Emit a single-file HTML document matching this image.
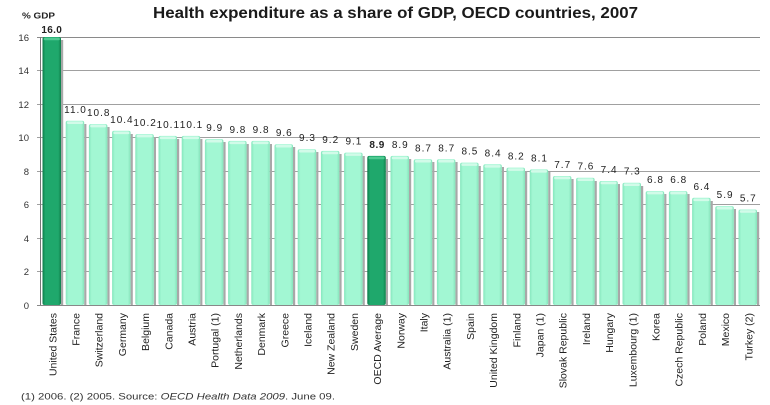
<!DOCTYPE html>
<html><head><meta charset="utf-8"><style>
html,body{margin:0;padding:0;background:#fff;}
svg{display:block;}
text{font-family:"Liberation Sans",sans-serif;}
</style></head><body>
<svg width="770" height="405" viewBox="0 0 770 405" xmlns="http://www.w3.org/2000/svg">
<defs>
<linearGradient id="lg" x1="0" x2="1" y1="0" y2="0">
<stop offset="0" stop-color="#86e6bd"/><stop offset="0.15" stop-color="#a2f7d3"/><stop offset="0.85" stop-color="#a2f7d3"/><stop offset="1" stop-color="#86e3bb"/>
</linearGradient>
<linearGradient id="dg" x1="0" x2="1" y1="0" y2="0">
<stop offset="0" stop-color="#0c7a48"/><stop offset="0.15" stop-color="#1fa86c"/><stop offset="0.85" stop-color="#1fa86c"/><stop offset="1" stop-color="#0f804c"/>
</linearGradient>
</defs>
<text x="153" y="18" font-size="16" font-weight="bold" fill="#1a1a1a" textLength="485" lengthAdjust="spacingAndGlyphs">Health expenditure as a share of GDP, OECD countries, 2007</text>
<text x="22" y="18.3" font-size="8.5" font-weight="bold" fill="#222" textLength="33" lengthAdjust="spacingAndGlyphs">% GDP</text>
<g stroke="#a0a0a0" stroke-width="1">
<line x1="37" x2="760" y1="37.5" y2="37.5" stroke="#8a8a8a"/>
<line x1="37" x2="760" y1="70.5" y2="70.5"/>
<line x1="37" x2="760" y1="104.5" y2="104.5"/>
<line x1="37" x2="760" y1="137.5" y2="137.5"/>
<line x1="37" x2="760" y1="171.5" y2="171.5"/>
<line x1="37" x2="760" y1="204.5" y2="204.5"/>
<line x1="37" x2="760" y1="238.5" y2="238.5"/>
<line x1="37" x2="760" y1="271.5" y2="271.5"/>
</g>
<g font-size="9.5" fill="#333" text-anchor="end">
<text x="29" y="41">16</text><text x="29" y="74">14</text><text x="29" y="108">12</text><text x="29" y="141">10</text>
<text x="29" y="175">8</text><text x="29" y="208">6</text><text x="29" y="242">4</text><text x="29" y="275">2</text><text x="29" y="309">0</text>
</g>
<g fill="#a8a8a8">
<rect x="61" y="40" width="2.2" height="265"/>
<rect x="84.2" y="124" width="2.2" height="181"/>
<rect x="107.4" y="127" width="2.2" height="178"/>
<rect x="130.6" y="134" width="2.2" height="171"/>
<rect x="153.8" y="137" width="2.2" height="168"/>
<rect x="177" y="139" width="2.2" height="166"/>
<rect x="200.2" y="139" width="2.2" height="166"/>
<rect x="223.4" y="142" width="2.2" height="163"/>
<rect x="246.6" y="144" width="2.2" height="161"/>
<rect x="269.8" y="144" width="2.2" height="161"/>
<rect x="293" y="147" width="2.2" height="158"/>
<rect x="316.2" y="152" width="2.2" height="153"/>
<rect x="339.4" y="154" width="2.2" height="151"/>
<rect x="362.6" y="156" width="2.2" height="149"/>
<rect x="385.8" y="159" width="2.2" height="146"/>
<rect x="409" y="159" width="2.2" height="146"/>
<rect x="432.2" y="162" width="2.2" height="143"/>
<rect x="455.4" y="162" width="2.2" height="143"/>
<rect x="478.6" y="166" width="2.2" height="139"/>
<rect x="501.8" y="167" width="2.2" height="138"/>
<rect x="525" y="171" width="2.2" height="134"/>
<rect x="548.2" y="172" width="2.2" height="133"/>
<rect x="571.4" y="179" width="2.2" height="126"/>
<rect x="594.6" y="181" width="2.2" height="124"/>
<rect x="617.8" y="184" width="2.2" height="121"/>
<rect x="641" y="186" width="2.2" height="119"/>
<rect x="664.2" y="194" width="2.2" height="111"/>
<rect x="687.4" y="194" width="2.2" height="111"/>
<rect x="710.6" y="201" width="2.2" height="104"/>
<rect x="733.8" y="209" width="2.2" height="96"/>
<rect x="757" y="212" width="2.2" height="93"/>
</g>
<g fill="url(#lg)">
<rect x="65.7" y="120.75" width="18.5" height="184.25" rx="2"/>
<rect x="88.9" y="124.1" width="18.5" height="180.9" rx="2"/>
<rect x="112.1" y="130.8" width="18.5" height="174.2" rx="2"/>
<rect x="135.3" y="134.15" width="18.5" height="170.85" rx="2"/>
<rect x="158.5" y="135.83" width="18.5" height="169.17" rx="2"/>
<rect x="181.7" y="135.83" width="18.5" height="169.17" rx="2"/>
<rect x="204.9" y="139.18" width="18.5" height="165.82" rx="2"/>
<rect x="228.1" y="140.85" width="18.5" height="164.15" rx="2"/>
<rect x="251.3" y="140.85" width="18.5" height="164.15" rx="2"/>
<rect x="274.5" y="144.2" width="18.5" height="160.8" rx="2"/>
<rect x="297.7" y="149.23" width="18.5" height="155.77" rx="2"/>
<rect x="320.9" y="150.9" width="18.5" height="154.1" rx="2"/>
<rect x="344.1" y="152.58" width="18.5" height="152.42" rx="2"/>
<rect x="390.5" y="155.93" width="18.5" height="149.07" rx="2"/>
<rect x="413.7" y="159.28" width="18.5" height="145.72" rx="2"/>
<rect x="436.9" y="159.28" width="18.5" height="145.72" rx="2"/>
<rect x="460.1" y="162.63" width="18.5" height="142.37" rx="2"/>
<rect x="483.3" y="164.3" width="18.5" height="140.7" rx="2"/>
<rect x="506.5" y="167.65" width="18.5" height="137.35" rx="2"/>
<rect x="529.7" y="169.33" width="18.5" height="135.67" rx="2"/>
<rect x="552.9" y="176.03" width="18.5" height="128.97" rx="2"/>
<rect x="576.1" y="177.7" width="18.5" height="127.3" rx="2"/>
<rect x="599.3" y="181.05" width="18.5" height="123.95" rx="2"/>
<rect x="622.5" y="182.73" width="18.5" height="122.27" rx="2"/>
<rect x="645.7" y="191.1" width="18.5" height="113.9" rx="2"/>
<rect x="668.9" y="191.1" width="18.5" height="113.9" rx="2"/>
<rect x="692.1" y="197.8" width="18.5" height="107.2" rx="2"/>
<rect x="715.3" y="206.18" width="18.5" height="98.82" rx="2"/>
<rect x="738.5" y="209.53" width="18.5" height="95.47" rx="2"/>
</g>
<g fill="url(#dg)">
<rect x="42.5" y="37" width="18.5" height="268" rx="2"/>
<rect x="367.3" y="155.93" width="18.5" height="149.07" rx="2"/>
</g>
<g fill="#d2fbe9">
<rect x="67" y="121.5" width="16" height="2.5" rx="1"/><rect x="90.2" y="124.9" width="16" height="2.5" rx="1"/>
<rect x="113.4" y="131.6" width="16" height="2.5" rx="1"/><rect x="136.6" y="134.9" width="16" height="2.5" rx="1"/>
<rect x="159.8" y="136.6" width="16" height="2.5" rx="1"/><rect x="183" y="136.6" width="16" height="2.5" rx="1"/>
<rect x="206.2" y="140" width="16" height="2.5" rx="1"/><rect x="229.4" y="141.6" width="16" height="2.5" rx="1"/>
<rect x="252.6" y="141.6" width="16" height="2.5" rx="1"/><rect x="275.8" y="145" width="16" height="2.5" rx="1"/>
<rect x="299" y="150" width="16" height="2.5" rx="1"/><rect x="322.2" y="151.7" width="16" height="2.5" rx="1"/>
<rect x="345.4" y="153.4" width="16" height="2.5" rx="1"/><rect x="391.8" y="156.7" width="16" height="2.5" rx="1"/>
<rect x="415" y="160" width="16" height="2.5" rx="1"/><rect x="438.2" y="160" width="16" height="2.5" rx="1"/>
<rect x="461.4" y="163.4" width="16" height="2.5" rx="1"/><rect x="484.6" y="165.1" width="16" height="2.5" rx="1"/>
<rect x="507.8" y="168.4" width="16" height="2.5" rx="1"/><rect x="531" y="170.1" width="16" height="2.5" rx="1"/>
<rect x="554.2" y="176.8" width="16" height="2.5" rx="1"/><rect x="577.4" y="178.5" width="16" height="2.5" rx="1"/>
<rect x="600.6" y="181.8" width="16" height="2.5" rx="1"/><rect x="623.8" y="183.5" width="16" height="2.5" rx="1"/>
<rect x="647" y="191.9" width="16" height="2.5" rx="1"/><rect x="670.2" y="191.9" width="16" height="2.5" rx="1"/>
<rect x="693.4" y="198.6" width="16" height="2.5" rx="1"/><rect x="716.6" y="207" width="16" height="2.5" rx="1"/>
<rect x="739.8" y="210.3" width="16" height="2.5" rx="1"/>
</g>
<g fill="#4fc991">
<rect x="43.8" y="37.8" width="16" height="2.5" rx="1"/><rect x="368.6" y="156.7" width="16" height="2.5" rx="1"/>
</g>
<line x1="40.5" x2="40.5" y1="37" y2="305.5" stroke="#777" stroke-width="1"/>
<line x1="37" x2="760" y1="305.5" y2="305.5" stroke="#888" stroke-width="1"/>
<g font-size="10" fill="#222" text-anchor="middle" letter-spacing="1">
<text x="51.75" y="33" font-weight="bold" letter-spacing="0.3">16.0</text>
<text x="75.5" y="112.75">11.0</text>
<text x="98.7" y="116.1">10.8</text>
<text x="121.9" y="122.8">10.4</text>
<text x="145.1" y="126.15">10.2</text>
<text x="168.3" y="127.83">10.1</text>
<text x="191.5" y="127.83">10.1</text>
<text x="214.7" y="131.18">9.9</text>
<text x="237.9" y="132.85">9.8</text>
<text x="261.1" y="132.85">9.8</text>
<text x="284.3" y="136.2">9.6</text>
<text x="307.5" y="141.23">9.3</text>
<text x="330.7" y="142.9">9.2</text>
<text x="353.9" y="144.58">9.1</text>
<text x="377.1" y="147.93" font-weight="bold" letter-spacing="0.5">8.9</text>
<text x="400.3" y="147.93">8.9</text>
<text x="423.5" y="151.28">8.7</text>
<text x="446.7" y="151.28">8.7</text>
<text x="469.9" y="154.63">8.5</text>
<text x="493.1" y="156.3">8.4</text>
<text x="516.3" y="159.65">8.2</text>
<text x="539.5" y="161.33">8.1</text>
<text x="562.7" y="168.03">7.7</text>
<text x="585.9" y="169.7">7.6</text>
<text x="609.1" y="173.05">7.4</text>
<text x="632.3" y="174.73">7.3</text>
<text x="655.5" y="183.1">6.8</text>
<text x="678.7" y="183.1">6.8</text>
<text x="701.9" y="189.8">6.4</text>
<text x="725.1" y="198.18">5.9</text>
<text x="748.3" y="201.53">5.7</text>
</g>
<g font-size="10.5" fill="#222" text-anchor="end">
<text transform="translate(56.3,313) rotate(-90)">United States</text>
<text transform="translate(79.5,313) rotate(-90)">France</text>
<text transform="translate(102.7,313) rotate(-90)">Switzerland</text>
<text transform="translate(125.9,313) rotate(-90)">Germany</text>
<text transform="translate(149.1,313) rotate(-90)">Belgium</text>
<text transform="translate(172.3,313) rotate(-90)">Canada</text>
<text transform="translate(195.5,313) rotate(-90)">Austria</text>
<text transform="translate(218.7,313) rotate(-90)">Portugal (1)</text>
<text transform="translate(241.9,313) rotate(-90)">Netherlands</text>
<text transform="translate(265.1,313) rotate(-90)">Denmark</text>
<text transform="translate(288.3,313) rotate(-90)">Greece</text>
<text transform="translate(311.5,313) rotate(-90)">Iceland</text>
<text transform="translate(334.7,313) rotate(-90)">New Zealand</text>
<text transform="translate(357.9,313) rotate(-90)">Sweden</text>
<text transform="translate(381.1,313) rotate(-90)">OECD Average</text>
<text transform="translate(404.3,313) rotate(-90)">Norway</text>
<text transform="translate(427.5,313) rotate(-90)">Italy</text>
<text transform="translate(450.7,313) rotate(-90)">Australia (1)</text>
<text transform="translate(473.9,313) rotate(-90)">Spain</text>
<text transform="translate(497.1,313) rotate(-90)">United Kingdom</text>
<text transform="translate(520.3,313) rotate(-90)">Finland</text>
<text transform="translate(543.5,313) rotate(-90)">Japan (1)</text>
<text transform="translate(566.7,313) rotate(-90)">Slovak Republic</text>
<text transform="translate(589.9,313) rotate(-90)">Ireland</text>
<text transform="translate(613.1,313) rotate(-90)">Hungary</text>
<text transform="translate(636.3,313) rotate(-90)">Luxembourg (1)</text>
<text transform="translate(659.5,313) rotate(-90)">Korea</text>
<text transform="translate(682.7,313) rotate(-90)">Czech Republic</text>
<text transform="translate(705.9,313) rotate(-90)">Poland</text>
<text transform="translate(729.1,313) rotate(-90)">Mexico</text>
<text transform="translate(752.3,313) rotate(-90)">Turkey (2)</text>
</g>
<text x="21" y="399.5" font-size="9.5" fill="#333" textLength="314" lengthAdjust="spacingAndGlyphs">(1) 2006. (2) 2005.   Source: <tspan font-style="italic">OECD Health Data 2009</tspan>. June 09.</text>
</svg>
</body></html>
